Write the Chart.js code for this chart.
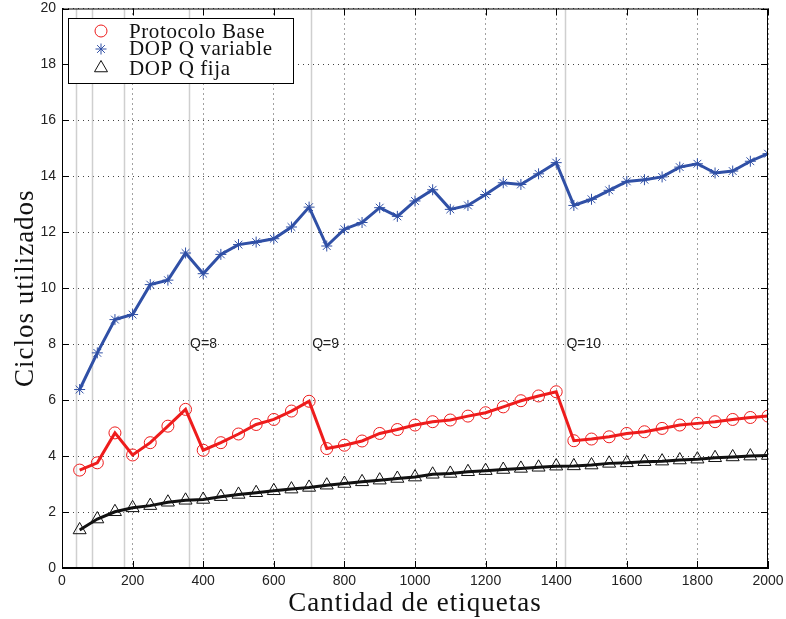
<!DOCTYPE html>
<html>
<head>
<meta charset="utf-8">
<script src="https://cdn.jsdelivr.net/npm/chart.js@4.4.0/dist/chart.umd.min.js"></script>
<style>
  html, body { margin: 0; padding: 0; background: #fff; }
  canvas { display: block; }
</style>
</head>
<body>
<canvas id="graficoCiclos" width="786" height="619"></canvas>
<script>
// cantidad de etiquetas en cada corrida
const cantidades = [50, 100, 150, 200, 250, 300, 350, 400, 450, 500,
  550, 600, 650, 700, 750, 800, 850, 900, 950, 1000,
  1050, 1100, 1150, 1200, 1250, 1300, 1350, 1400, 1450, 1500,
  1550, 1600, 1650, 1700, 1750, 1800, 1850, 1900, 1950, 2000];

const protocoloBase = [3.50, 3.76, 4.83, 4.04, 4.48, 5.07, 5.67, 4.21, 4.48, 4.79,
  5.13, 5.31, 5.61, 5.96, 4.27, 4.39, 4.54, 4.81, 4.95, 5.11,
  5.23, 5.29, 5.43, 5.55, 5.76, 5.98, 6.15, 6.30, 4.55, 4.61,
  4.69, 4.81, 4.87, 4.99, 5.11, 5.17, 5.23, 5.31, 5.38, 5.43];

const dopQVariable = [6.38, 7.69, 8.88, 9.06, 10.13, 10.29, 11.26, 10.52, 11.21, 11.56,
  11.65, 11.77, 12.19, 12.90, 11.51, 12.11, 12.35, 12.88, 12.57, 13.12,
  13.52, 12.82, 12.96, 13.35, 13.77, 13.71, 14.09, 14.49, 12.96, 13.18,
  13.50, 13.82, 13.88, 13.98, 14.33, 14.45, 14.12, 14.19, 14.54, 14.81];

const dopQFija = [1.36, 1.75, 2.01, 2.15, 2.23, 2.35, 2.42, 2.45, 2.55, 2.63,
  2.69, 2.76, 2.82, 2.88, 2.96, 3.02, 3.08, 3.14, 3.20, 3.25,
  3.35, 3.38, 3.44, 3.48, 3.52, 3.56, 3.60, 3.64, 3.65, 3.68,
  3.74, 3.76, 3.80, 3.82, 3.86, 3.89, 3.94, 3.97, 4.00, 4.02];

// cambios de Q (lineas grises) y las etiquetas que se rotulan
const cambiosQ = [40, 85, 176, 360, 706, 1426];
const etiquetasQ = [{ x: 360, texto: 'Q=8' }, { x: 706, texto: 'Q=9' }, { x: 1426, texto: 'Q=10' }];
const alturaEtiquetasQ = 8;

const ticksX = [0, 200, 400, 600, 800, 1000, 1200, 1400, 1600, 1800, 2000];
const ticksY = [0, 2, 4, 6, 8, 10, 12, 14, 16, 18, 20];

const ROJO = '#ee1c1c';
const AZUL = '#3050a6';
const NEGRO = '#111111';

const puntos = arr => cantidades.map((c, i) => ({ x: c, y: arr[i] }));

const serie = (label, arr, color, estilo, radio) => ({
  label,
  data: puntos(arr),
  borderColor: color,
  borderWidth: 3,
  backgroundColor: 'transparent',
  pointStyle: estilo,
  pointRadius: radio,
  pointBorderWidth: 1,
  pointBorderColor: color,
  pointBackgroundColor: 'transparent',
  tension: 0
});

const leyenda = [
  { texto: 'Protocolo Base', color: ROJO, estilo: 'circle', radio: 6 },
  { texto: 'DOP Q variable', color: AZUL, estilo: 'star', radio: 5.5 },
  { texto: 'DOP Q fija', color: NEGRO, estilo: 'triangle', radio: 7.5 }
];

// sin relleno extra de las etiquetas de los extremos
const sinRelleno = s => {
  s.paddingTop = 0; s.paddingBottom = 0;
  s.paddingLeft = 0; s.paddingRight = 0;
};

const marco = {
  id: 'marco',
  beforeDatasetsDraw(chart) {
    const { ctx, chartArea: a, scales: { x, y } } = chart;
    ctx.save();
    ctx.strokeStyle = '#cfcfcf';
    ctx.lineWidth = 1.5;
    cambiosQ.forEach(q => {
      const px = Math.round(x.getPixelForValue(q)) + 0.5;
      ctx.beginPath();
      ctx.moveTo(px, a.top);
      ctx.lineTo(px, a.bottom);
      ctx.stroke();
    });
    ctx.fillStyle = '#222';
    ctx.font = '14px "Liberation Sans", Arial, sans-serif';
    ctx.textAlign = 'left';
    ctx.textBaseline = 'middle';
    etiquetasQ.forEach(e => {
      ctx.fillText(e.texto, x.getPixelForValue(e.x) + 1, y.getPixelForValue(alturaEtiquetasQ));
    });
    ctx.restore();
  },
  afterDraw(chart) {
    const { ctx, chartArea: a, scales: { x, y } } = chart;
    ctx.save();
    // caja y marcas hacia adentro
    ctx.strokeStyle = '#000';
    ctx.lineWidth = 1;
    ctx.strokeRect(a.left + 0.5, a.top + 0.5, a.right - a.left - 1, a.bottom - a.top - 1);
    const largo = 7;
    ctx.beginPath();
    ticksX.forEach(v => {
      const px = Math.round(x.getPixelForValue(v)) + 0.5;
      ctx.moveTo(px, a.bottom); ctx.lineTo(px, a.bottom - largo);
      ctx.moveTo(px, a.top); ctx.lineTo(px, a.top + largo);
    });
    ticksY.forEach(v => {
      const py = Math.round(y.getPixelForValue(v)) + 0.5;
      ctx.moveTo(a.left, py); ctx.lineTo(a.left + largo, py);
      ctx.moveTo(a.right, py); ctx.lineTo(a.right - largo, py);
    });
    ctx.stroke();

    // titulos de los ejes
    ctx.fillStyle = '#111';
    ctx.font = '27px "Liberation Serif", "Times New Roman", serif';
    ctx.letterSpacing = '1px';
    ctx.textAlign = 'center';
    ctx.textBaseline = 'alphabetic';
    ctx.fillText('Cantidad de etiquetas', (a.left + a.right) / 2, 611);
    ctx.save();
    ctx.translate(33, (a.top + a.bottom) / 2);
    ctx.rotate(-Math.PI / 2);
    ctx.fillText('Ciclos utilizados', 0, 0);
    ctx.restore();

    // leyenda
    const lx = 68, ly = 18, lw = 225, lh = 65;
    ctx.fillStyle = '#fff';
    ctx.fillRect(lx, ly, lw, lh);
    ctx.strokeStyle = '#000';
    ctx.strokeRect(lx + 0.5, ly + 0.5, lw, lh);
    const filas = [31, 49, 68];
    const bases = [37.5, 55, 75];
    ctx.font = '21px "Liberation Serif", "Times New Roman", serif';
    ctx.letterSpacing = '0.6px';
    ctx.textAlign = 'left';
    leyenda.forEach((l, i) => {
      ctx.strokeStyle = l.color;
      ctx.fillStyle = 'transparent';
      ctx.lineWidth = 1;
      Chart.helpers.drawPoint(ctx, { pointStyle: l.estilo, radius: l.radio, borderWidth: 1, rotation: 0 }, 101, filas[i]);
      ctx.fillStyle = '#111';
      ctx.fillText(l.texto, 129, bases[i]);
    });
    ctx.restore();
  }
};

new Chart(document.getElementById('graficoCiclos'), {
  type: 'line',
  data: {
    datasets: [
      serie('Protocolo Base', protocoloBase, ROJO, 'circle', 6),
      serie('DOP Q variable', dopQVariable, AZUL, 'star', 5.5),
      serie('DOP Q fija', dopQFija, NEGRO, 'triangle', 7.5)
    ]
  },
  options: {
    responsive: false,
    animation: false,
    layout: { padding: { left: 0, right: 18, top: 8, bottom: 0 } },
    plugins: {
      legend: { display: false },
      tooltip: { enabled: false }
    },
    scales: {
      x: {
        type: 'linear',
        min: 0,
        max: 2000,
        afterFit: s => { s.height = 51; sinRelleno(s); },
        afterBuildTicks: s => { s.ticks = ticksX.map(v => ({ value: v })); },
        ticks: {
          autoSkip: false,
          maxRotation: 0,
          padding: 5,
          color: '#222',
          font: { family: '"Liberation Sans", Arial, sans-serif', size: 14 },
          callback: v => String(v)
        },
        grid: { color: '#444', lineWidth: 1, drawTicks: false },
        border: { display: true, color: '#000', dash: [1, 4] }
      },
      y: {
        min: 0,
        max: 20,
        afterFit: s => { s.width = 62; sinRelleno(s); },
        afterBuildTicks: s => { s.ticks = ticksY.map(v => ({ value: v })); },
        ticks: {
          autoSkip: false,
          padding: 6,
          color: '#222',
          font: { family: '"Liberation Sans", Arial, sans-serif', size: 14 },
          callback: v => String(v)
        },
        grid: { color: '#444', lineWidth: 1, drawTicks: false },
        border: { display: true, color: '#000', dash: [1, 4] }
      }
    }
  },
  plugins: [marco]
});
</script>
</body>
</html>
